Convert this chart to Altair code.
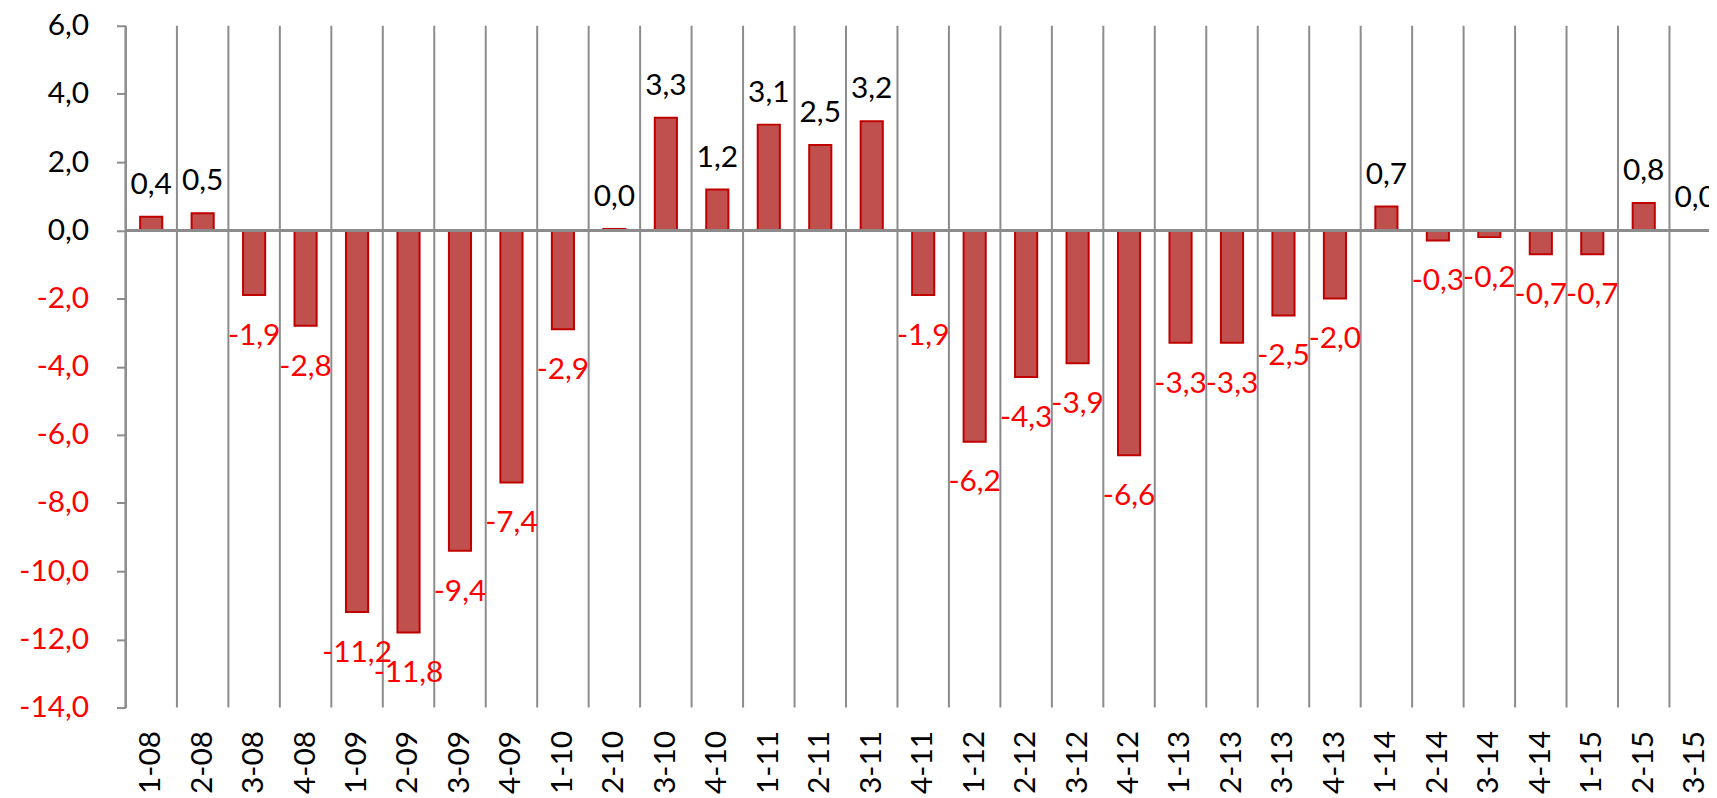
import altair as alt
import pandas as pd

categories = ["1-08", "2-08", "3-08", "4-08", "1-09", "2-09", "3-09", "4-09",
              "1-10", "2-10", "3-10", "4-10", "1-11", "2-11", "3-11", "4-11",
              "1-12", "2-12", "3-12", "4-12", "1-13", "2-13", "3-13", "4-13",
              "1-14", "2-14", "3-14", "4-14", "1-15", "2-15", "3-15"]
values = [0.4, 0.5, -1.9, -2.8, -11.2, -11.8, -9.4, -7.4,
          -2.9, 0.04, 3.3, 1.2, 3.1, 2.5, 3.2, -1.9,
          -6.2, -4.3, -3.9, -6.6, -3.3, -3.3, -2.5, -2.0,
          0.7, -0.3, -0.2, -0.7, -0.7, 0.8, 0.0]
y_ticks = [-14, -12, -10, -8, -6, -4, -2, 0, 2, 4, 6]

df = pd.DataFrame({"cat": categories, "v": values})
df["label"] = [f"{v:.1f}".replace(".", ",") for v in values]

FONT = "Lato"
FS = 30
GRAY = "#8C8C8C"

xscale = alt.Scale(range=[0, 1603], paddingInner=0, paddingOuter=0)
yscale = alt.Scale(domain=[-14, 6], nice=False, zero=False)

xaxis = alt.Axis(labelAngle=-90, labelFont=FONT, labelFontSize=FS,
                 labelColor="black", domain=False, ticks=False,
                 grid=False, labelPadding=23, title=None,
                 labelOverlap=False, labelBaseline="middle", labelAlign="right")
yaxis = alt.Axis(values=y_ticks, grid=False, title=None,
                 labelExpr="(datum.value < 0 ? '-' : '') + replace(format(abs(datum.value), '.1f'), '.', ',')",
                 labelFont=FONT, labelFontSize=FS, labelPadding=28,
                 labelColor=alt.condition("datum.value < 0", alt.value("#FF0000"), alt.value("black")),
                 domainColor=GRAY, domainWidth=2, tickColor=GRAY,
                 tickWidth=2, tickSize=9)

base = alt.Chart(df)

grid = base.mark_rule(color=GRAY, strokeWidth=2).encode(
    x=alt.X("cat:N", sort=categories, scale=xscale, bandPosition=0, axis=xaxis),
    y=alt.Y("v:Q", scale=yscale, axis=yaxis),
    y2=alt.datum(-14),
).transform_calculate(v="6")

bars = base.mark_bar(width={"band": 0.43}, fill="#C0504D", stroke="#C00000",
                     strokeWidth=2).encode(
    x=alt.X("cat:N", sort=categories),
    y=alt.Y("v:Q"),
    y2=alt.datum(0),
)

zero = alt.Chart(df).mark_rule(color=GRAY, strokeWidth=2.5).encode(
    y=alt.datum(0)
)

pos_text = base.transform_filter("datum.v >= 0").mark_text(
    baseline="middle", dy=-32, font=FONT, fontSize=FS, color="black"
).encode(
    x=alt.X("cat:N", sort=categories),
    y=alt.Y("v:Q"),
    text="label:N",
)

neg_text = base.transform_filter("datum.v < 0").mark_text(
    baseline="middle", dy=41, font=FONT, fontSize=FS, color="#FF0000"
).encode(
    x=alt.X("cat:N", sort=categories),
    y=alt.Y("v:Q"),
    text="label:N",
)

chart = alt.layer(grid, bars, zero, pos_text, neg_text).properties(
    width=1591, height=685,
    autosize=alt.AutoSizeParams(type="none"),
    padding={"left": 118, "top": 16, "right": 0, "bottom": 86},
    background="white",
).configure_view(stroke=None)

chart.save("out.html", embed_options={"renderer": "svg", "actions": False})
